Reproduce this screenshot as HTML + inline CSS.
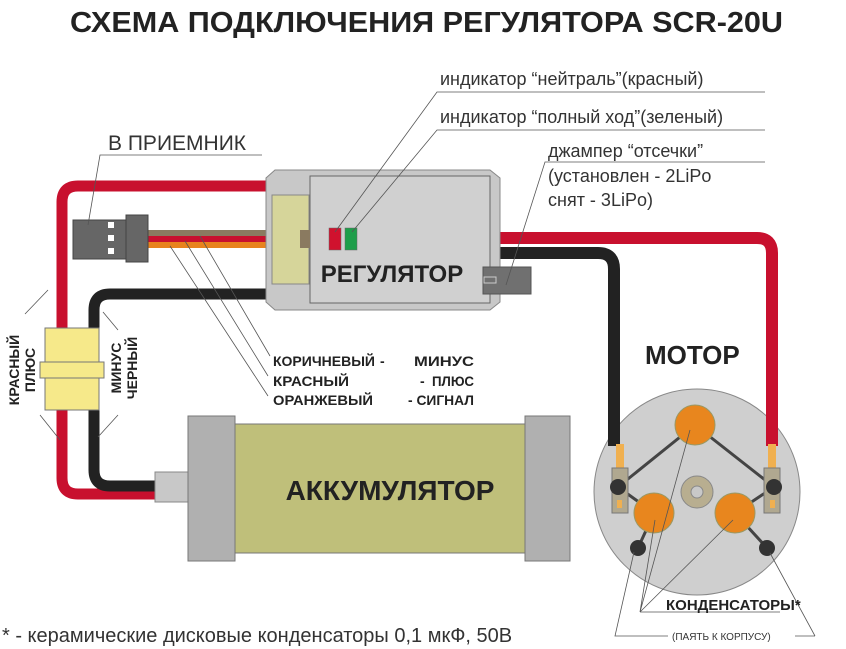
<!DOCTYPE html>
<html><head><meta charset="utf-8"><style>html,body{margin:0;padding:0;background:#fff}svg{display:block}</style></head><body>
<svg width="846" height="649" viewBox="0 0 846 649" xmlns="http://www.w3.org/2000/svg" font-family="Liberation Sans, sans-serif">
<text x="70" y="32" font-size="29" font-weight="bold" fill="#222" textLength="713" lengthAdjust="spacingAndGlyphs">СХЕМА ПОДКЛЮЧЕНИЯ РЕГУЛЯТОРА  SCR-20U</text>

<path d="M268 186 H78 Q62 186 62 202 V478 Q62 494 78 494 H160" fill="none" stroke="#c8102e" stroke-width="11"/>
<path d="M268 294 H110 Q94 294 94 310 V470 Q94 486 110 486 H160" fill="none" stroke="#222" stroke-width="11"/>
<rect x="45" y="328" width="54" height="82" fill="#f6e98a" stroke="#777" stroke-width="1"/>
<rect x="40" y="362" width="64" height="16" fill="#f6e98a" stroke="#777" stroke-width="1"/>

<circle cx="697" cy="492" r="103" fill="#cfcfcf" stroke="#888"/>

<path d="M498 238 H757 Q772 238 772 253 V446" fill="none" stroke="#c8102e" stroke-width="12"/>
<path d="M498 253 H598 Q614 253 614 269 V446" fill="none" stroke="#222" stroke-width="12"/>
<rect x="616" y="444" width="8" height="34" fill="#f0b050"/>
<rect x="768" y="444" width="8" height="34" fill="#f0b050"/>

<rect x="148" y="230" width="152" height="6" fill="#8a7a60"/>
<rect x="148" y="236" width="152" height="6" fill="#c8102e"/>
<rect x="148" y="242" width="152" height="6" fill="#e8831e"/>
<rect x="73" y="220" width="54" height="39" fill="#666" stroke="#444"/>
<rect x="126" y="215" width="22" height="47" fill="#666" stroke="#444"/>
<rect x="108" y="222" width="6" height="6" fill="#fff"/>
<rect x="108" y="235" width="6" height="6" fill="#fff"/>
<rect x="108" y="248" width="6" height="6" fill="#fff"/>

<path d="M275 170 H490 L500 178 V302 L490 310 H275 L266 302 V178 Z" fill="#c8c8c8" stroke="#888"/>
<rect x="310" y="176" width="180" height="127" fill="#d0d0d0" stroke="#666"/>
<rect x="272" y="195" width="37" height="89" fill="#d6d59a" stroke="#888"/>
<rect x="300" y="230" width="10" height="18" fill="#8a7a60"/>
<rect x="329" y="228" width="12" height="22" fill="#d0122e" stroke="#666" stroke-width="0.5"/>
<rect x="345" y="228" width="12" height="22" fill="#1e9e4a" stroke="#666" stroke-width="0.5"/>
<text x="392" y="282" font-size="24" font-weight="bold" fill="#222" text-anchor="middle">РЕГУЛЯТОР</text>
<rect x="483" y="267" width="48" height="27" fill="#707070" stroke="#555"/>
<rect x="484" y="277" width="12" height="6" fill="none" stroke="#ccc"/>

<rect x="155" y="472" width="34" height="30" fill="#c8c8c8" stroke="#888"/>
<rect x="234" y="424" width="292" height="129" fill="#bfbf7a" stroke="#777"/>
<rect x="188" y="416" width="47" height="145" fill="#b0b0b0" stroke="#777"/>
<rect x="525" y="416" width="45" height="145" fill="#b0b0b0" stroke="#777"/>
<text x="390" y="500" font-size="28" font-weight="bold" fill="#222" text-anchor="middle">АККУМУЛЯТОР</text>

<g stroke="#444" stroke-width="3" fill="none">
<path d="M618 487 L695 425 L774 487"/>
<path d="M618 487 L654 513 M638 548 L654 513"/>
<path d="M774 487 L735 513 M767 548 L735 513"/>
</g>
<rect x="612" y="468" width="16" height="45" fill="#b0a890" stroke="#777"/>
<rect x="764" y="468" width="16" height="45" fill="#b0a890" stroke="#777"/>
<rect x="617" y="500" width="5" height="8" fill="#f0b050"/>
<rect x="770" y="500" width="5" height="8" fill="#f0b050"/>
<circle cx="697" cy="492" r="16" fill="#b8ae90" stroke="#888"/>
<circle cx="697" cy="492" r="6" fill="#c8c8c8" stroke="#888"/>
<circle cx="695" cy="425" r="20" fill="#e8861e" stroke="#996"/>
<circle cx="654" cy="513" r="20" fill="#e8861e" stroke="#996"/>
<circle cx="735" cy="513" r="20" fill="#e8861e" stroke="#996"/>
<circle cx="618" cy="487" r="8" fill="#333"/>
<circle cx="774" cy="487" r="8" fill="#333"/>
<circle cx="638" cy="548" r="8" fill="#333"/>
<circle cx="767" cy="548" r="8" fill="#333"/>
<text x="645" y="364" font-size="26" font-weight="bold" fill="#222">МОТОР</text>

<g stroke="#555" stroke-width="0.8" fill="none">
<path d="M765 92 H437 L335 232"/>
<path d="M765 130 H437 L352 232"/>
<path d="M765 162 H545 L506 285"/>
<path d="M262 155 H100 L88 225"/>
<path d="M200 236 L270 356 M185 241 L268 376 M170 246 L268 396"/>
<path d="M48 290 L25 314 M40 415 L60 440"/>
<path d="M103 312 L118 330 M118 415 L98 437"/>
<path d="M640 612 H780 M640 612 L690 430 M640 612 L655 520 M640 612 L733 520"/>
<path d="M668 636 H615 L634 552 M815 636 L770 553 M795 636 H815"/>
</g>

<text x="440" y="85" font-size="18" fill="#333">индикатор “нейтраль”(красный)</text>
<text x="440" y="123" font-size="18" fill="#333">индикатор “полный ход”(зеленый)</text>
<text x="548" y="157" font-size="18" fill="#333">джампер “отсечки”</text>
<text x="548" y="182" font-size="18" fill="#333">(установлен - 2LiPo</text>
<text x="548" y="206" font-size="18" fill="#333">снят - 3LiPo)</text>
<text x="108" y="150" font-size="21" fill="#333">В ПРИЕМНИК</text>
<g font-size="14" font-weight="bold" fill="#222">
<text x="273" y="366" textLength="102" lengthAdjust="spacingAndGlyphs">КОРИЧНЕВЫЙ</text><text x="380" y="366">-</text><text x="474" y="366" text-anchor="end" textLength="60" lengthAdjust="spacingAndGlyphs">МИНУС</text>
<text x="273" y="386" textLength="76" lengthAdjust="spacingAndGlyphs">КРАСНЫЙ</text><text x="420" y="386">-</text><text x="474" y="386" text-anchor="end" textLength="42" lengthAdjust="spacingAndGlyphs">ПЛЮС</text>
<text x="273" y="405" textLength="100" lengthAdjust="spacingAndGlyphs">ОРАНЖЕВЫЙ</text><text x="474" y="405" text-anchor="end" textLength="66" lengthAdjust="spacingAndGlyphs">- СИГНАЛ</text>
<text transform="translate(19,370) rotate(-90)" text-anchor="middle">КРАСНЫЙ</text>
<text transform="translate(35,370) rotate(-90)" text-anchor="middle">ПЛЮС</text>
<text transform="translate(121,368) rotate(-90)" text-anchor="middle">МИНУС</text>
<text transform="translate(137,368) rotate(-90)" text-anchor="middle">ЧЕРНЫЙ</text>
<text x="666" y="610" font-size="15">КОНДЕНСАТОРЫ*</text>
</g>
<text x="672" y="640" font-size="10" fill="#333">(ПАЯТЬ К КОРПУСУ)</text>
<text x="2" y="642" font-size="20" fill="#333">* - керамические дисковые конденсаторы 0,1 мкФ, 50В</text>
</svg>
</body></html>
